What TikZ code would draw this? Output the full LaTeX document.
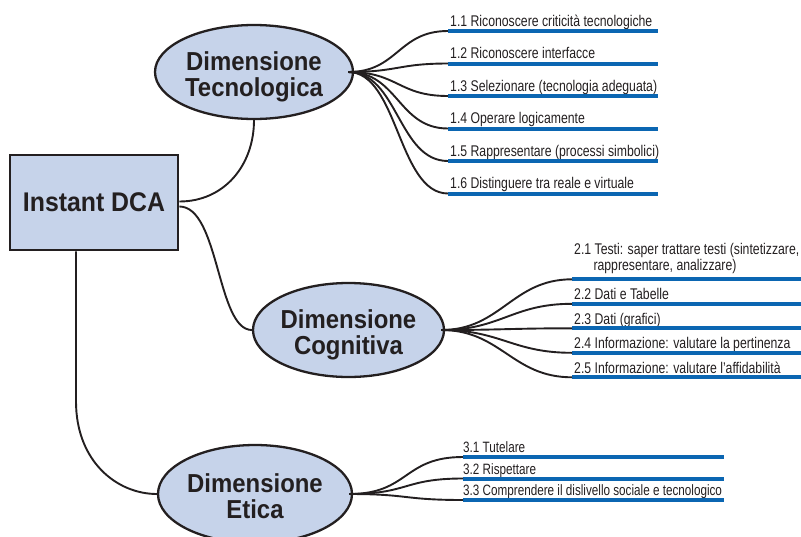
\documentclass[tikz,border=0pt]{standalone}
\usepackage{fontspec}
\setmainfont{Liberation Sans}
\newfontfamily\titlefont[FakeStretch=0.92]{Liberation Sans}
\newfontfamily\labfont[FakeStretch=0.79]{Liberation Sans}
\newfontfamily\labfontb[FakeStretch=0.78]{Liberation Sans}
\usetikzlibrary{shapes.geometric}
\definecolor{fillblue}{HTML}{C6D3EA}
\definecolor{barblue}{HTML}{0B66B2}
\definecolor{ink}{HTML}{231F20}
\begin{document}
\begin{tikzpicture}[x=1pt,y=-1pt,
  ell/.style={ellipse, draw=ink, line width=2.3pt, fill=fillblue, inner sep=0pt},
  title/.style={text=ink, font=\titlefont\bfseries\fontsize{26}{26}\selectfont, align=center, inner sep=0pt},
  lab/.style={text=ink, font=\labfont\fontsize{15.5}{12.7}\selectfont, inner sep=0pt, anchor=base west},
  labe/.style={lab, font=\labfontb\fontsize{15}{12.7}\selectfont},
  con/.style={draw=ink, line width=1.9pt},
  bar/.style={draw=barblue, line width=4pt}]
\useasboundingbox (0,0) rectangle (801,536);

% main box
\node[draw=ink, line width=2.7pt, fill=fillblue, minimum width=168pt, minimum height=95pt,
      inner sep=0pt, text=ink, font=\titlefont\bfseries\fontsize{27}{27}\selectfont] (box) at (94,202.5) {Instant DCA};

% ellipses
\node[ell, minimum width=198pt, minimum height=94pt] (tec) at (254,72) {};
\node[title, yshift=-5pt] (tect) at (tec) {Dimensione\\Tecnologica};
\node[ell, minimum width=191pt, minimum height=94pt] (cog) at (348.5,330) {};
\node[title, yshift=-5pt] (cogt) at (cog) {Dimensione\\Cognitiva};
\node[ell, minimum width=194pt, minimum height=98pt] (eti) at (255,494) {};
\node[title, yshift=-2pt] (etit) at (eti) {Dimensione\\Etica};

% main connectors
\draw[con] ([yshift=1pt]box.east) .. controls +(45,0) and +(0,45) .. (tec.south);
\draw[con] ([yshift=-4pt]box.east) .. controls +(40,0) and +(-35,0) .. (cog.west);
\draw[con] ([xshift=-18pt]box.south) -- ++(0,150) .. controls +(0,60) and +(-40,0) .. (eti.west);

% Tecnologica items
\coordinate (b11) at (448,31);
\coordinate (b12) at (448,63.5);
\coordinate (b13) at (448,96);
\coordinate (b14) at (448,128.5);
\coordinate (b15) at (448,161);
\coordinate (b16) at (448,193.5);
\node[lab] (t11) at (450,26) {1.1 Riconoscere criticità tecnologiche};
\node[lab] (t12) at (450,58.5) {1.2 Riconoscere interfacce};
\node[lab] (t13) at (450,91) {1.3 Selezionare (tecnologia adeguata)};
\node[lab] (t14) at (450,123.5) {1.4 Operare logicamente};
\node[lab] (t15) at (450,156) {1.5 Rappresentare (processi simbolici)};
\node[lab] (t16) at (450,188.5) {1.6 Distinguere tra reale e virtuale};
\foreach \b in {b11,b12,b13,b14,b15,b16}{
  \draw[bar] (\b) -- ++(210,0);
  \draw[con] ([xshift=-6pt]tec.east) .. controls +(50,0) and +(-50,0) .. (\b);
}

% Cognitiva items
\coordinate (b21) at (572,279.3);
\coordinate (b22) at (572,303.8);
\coordinate (b23) at (572,328.3);
\coordinate (b24) at (572,352.8);
\coordinate (b25) at (572,377.3);
\node[lab, anchor=south west, align=left] (t21) at (574,273.8) {2.1 Testi: saper trattare testi (sintetizzare,\\\hspace*{19.3pt}rappresentare, analizzare)};
\node[lab] (t22) at (574,299.5) {2.2 Dati e Tabelle};
\node[lab] (t23) at (574,324) {2.3 Dati (grafici)};
\node[lab] (t24) at (574,348.5) {2.4 Informazione: valutare la pertinenza};
\node[lab] (t25) at (574,373) {2.5 Informazione: valutare l’affidabilità};
\foreach \b in {b21,b22,b23,b24,b25}{
  \draw[bar] (\b) -- (801,0 |- \b);
  \draw[con] ([xshift=-4pt]cog.east) .. controls +(60,0) and +(-60,0) .. (\b);
}

% Etica items
\coordinate (b31) at (463,457);
\coordinate (b32) at (463,478.5);
\coordinate (b33) at (463,500);
\node[labe] (t31) at (463,452.5) {3.1 Tutelare};
\node[labe] (t32) at (463,474) {3.2 Rispettare};
\node[labe] (t33) at (463,495.5) {3.3 Comprendere il dislivello sociale e tecnologico};
\foreach \b in {b31,b32,b33}{
  \draw[bar] (\b) -- ++(261,0);
  \draw[con] ([xshift=-4pt]eti.east) .. controls +(60,0) and +(-60,0) .. (\b);
}
\end{tikzpicture}
\end{document}
